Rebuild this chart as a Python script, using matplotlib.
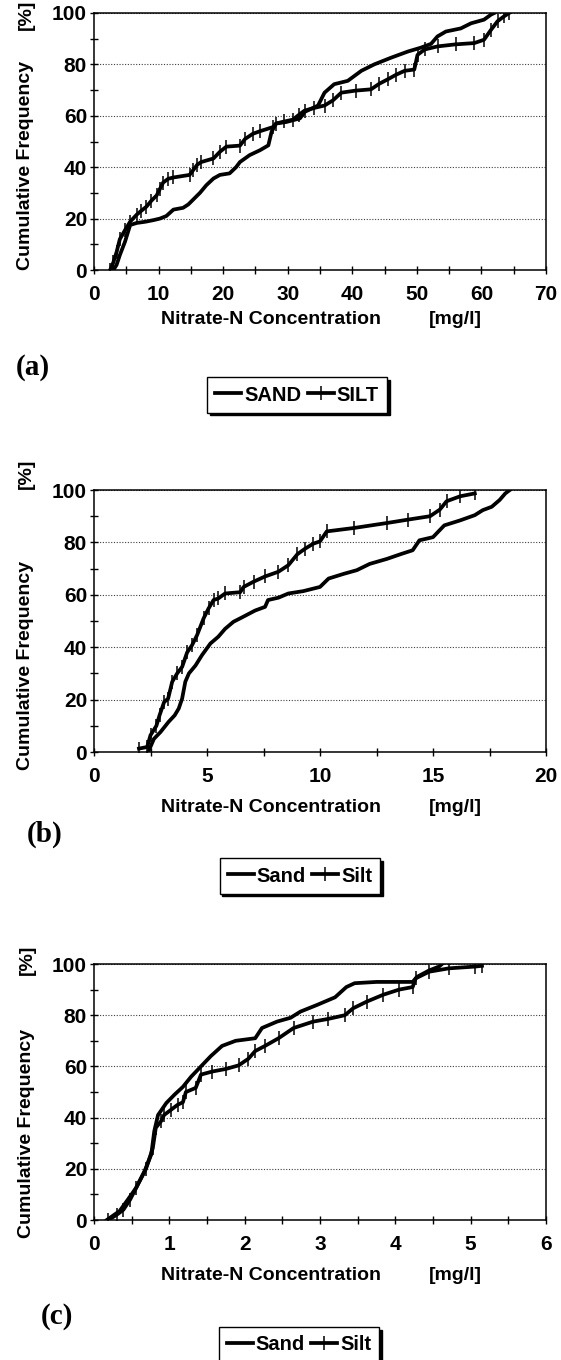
import matplotlib
matplotlib.use("Agg")
import matplotlib.pyplot as plt
from matplotlib.ticker import MultipleLocator

# ---------------- data ----------------
# Panel (a)
sand_a_x = [3.0, 3.5, 4.0, 4.8, 5.6, 6.6, 8.0, 9.2, 10.2, 11.2, 12.3, 13.8, 14.6, 15.4, 16.4, 17.4,
            18.5, 19.5, 21.0, 22.0, 22.6, 24.1, 25.7, 27.0, 27.5, 28.2, 29.8, 31.9, 32.6, 34.7, 35.7,
            37.2, 39.3, 41.4, 43.4, 46.0, 48.6, 50.6, 52.2, 53.2, 54.5, 56.8, 58.4, 60.4, 61.5, 62.0]
sand_a_y = [0, 2, 5.8, 11, 17.5, 18.3, 18.8, 19.4, 20, 21, 23.5, 24.2, 25.5, 27.5, 30, 33,
            35.6, 37, 37.6, 40, 42, 44.7, 46.6, 48.5, 53.8, 57, 57.6, 59, 61.5, 64, 69,
            72.3, 73.6, 77.5, 80, 82.6, 85, 86.5, 88, 90.9, 92.8, 94, 96, 97.4, 99.4, 100]
silt_a_x = [2.5, 3.0, 3.5, 4.0, 4.8, 5.6, 6.6, 7.3, 8.1, 8.9, 9.7, 10.2, 10.7, 11.5, 12.3, 14.8,
            15.4, 16.0, 16.6, 18.5, 19.5, 20.5, 22.6, 23.4, 24.6, 25.7, 27.7, 28.2, 29.5, 30.8,
            31.8, 32.6, 34.0, 35.7, 37.0, 38.3, 40.5, 42.9, 44.2, 45.5, 46.8, 48.1, 49.6, 50.1,
            51.2, 53.2, 56.0, 58.9, 60.4, 61.5, 62.5, 63.5, 64.3]
silt_a_y = [0, 3, 7, 12, 15.5, 18.8, 21.5, 23, 24.6, 27, 29, 31.5, 34, 35.5, 36, 37,
            39, 41, 42, 43.4, 46, 48, 48.4, 51, 53, 54, 55.6, 57, 57.8, 58.5,
            60.5, 62, 63, 64, 66, 69, 69.8, 70.3, 72.5, 74.2, 76, 77.5, 78, 83.7,
            85.8, 87, 87.8, 88.3, 89.6, 93.5, 96.8, 98.7, 100]

# Panel (b)
sand_b_x = [2.4, 2.65, 2.94, 3.3, 3.57, 3.75, 3.9, 4.04, 4.2, 4.49, 4.78, 5.15, 5.5, 5.8, 6.17,
            6.6, 7.13, 7.57, 7.7, 8.16, 8.6, 9.26, 10.0, 10.38, 11.05, 11.63, 12.2, 12.96, 13.6,
            14.1, 14.4, 15.0, 15.5, 16.2, 16.85, 17.2, 17.6, 17.95, 18.2, 18.4]
sand_b_y = [0, 5, 7.6, 11.5, 14, 16.6, 20.4, 26.8, 30, 33, 37, 41.4, 44, 47, 49.7,
            51.6, 54, 55.4, 58, 58.9, 60.5, 61.4, 63, 66.2, 68, 69.4, 71.8, 73.7, 75.6,
            77, 80.8, 82, 86.5, 88.4, 90.4, 92.3, 93.6, 96.2, 98.7, 100]
silt_b_x = [1.99, 2.35, 2.5, 2.76, 2.9, 3.1, 3.28, 3.46, 3.68, 3.9, 4.12, 4.34, 4.56, 4.85,
            5.07, 5.29, 5.5, 5.8, 6.47, 6.62, 7.06, 7.57, 8.16, 8.6, 9.0, 9.34, 9.7, 10.0,
            10.3, 11.5, 12.96, 13.9, 14.87, 15.3, 15.6, 16.2, 16.85]
silt_b_y = [1.3, 1.9, 6.4, 10, 14, 19, 20.4, 26.8, 30, 32.5, 38, 40.8, 44.6, 51,
            54.8, 58, 58.6, 60.5, 61, 63, 65, 67, 68.8, 71.3, 75.5, 77.6, 79.5, 80.4,
            84.2, 85.5, 87.4, 88.7, 90, 92.5, 95.7, 97.6, 98.7]

# Panel (c)
sand_c_x = [0.17, 0.34, 0.45, 0.56, 0.67, 0.76, 0.8, 0.85, 0.96, 1.07, 1.18, 1.29, 1.42, 1.55,
            1.7, 1.88, 2.14, 2.23, 2.43, 2.61, 2.74, 2.96, 3.2, 3.35, 3.46, 3.75, 4.01, 4.23,
            4.29, 4.45, 4.58, 4.62]
sand_c_y = [0, 3.5, 8, 12.6, 19, 25.6, 34.7, 41, 45.7, 49, 52, 56, 60, 64,
            68, 70, 71, 75, 77.5, 79, 81.4, 84, 87, 91, 92.5, 93, 93, 93,
            95, 97.5, 99, 100]
silt_c_x = [0.19, 0.3, 0.39, 0.48, 0.56, 0.69, 0.78, 0.82, 0.89, 0.93, 1.02, 1.11, 1.18, 1.22,
            1.35, 1.42, 1.57, 1.75, 1.92, 2.05, 2.14, 2.27, 2.45, 2.65, 2.91, 3.1, 3.33, 3.44,
            3.62, 3.84, 4.05, 4.23, 4.27, 4.45, 4.71, 5.06, 5.15]
silt_c_y = [0, 2, 4, 8, 12.6, 20, 28, 36, 38.6, 41, 43, 45, 46, 50,
            51.6, 56.8, 58, 59, 60.4, 63, 66, 68, 71, 75, 77.5, 78.5, 80, 82.7,
            85.3, 88, 90, 91, 94.4, 97, 98.3, 99, 99.3]

x_limits = [70, 20, 6]
x_major = [10, 5, 1]
x_minor = [5, 2.5, 0.5]
legend_labels = [["SAND", "SILT"], ["Sand", "Silt"], ["Sand", "Silt"]]
panel_tags = ["(a)", "(b)", "(c)"]
x_label = "Nitrate-N Concentration"
x_unit = "[mg/l]"
y_label = "Cumulative Frequency"
y_unit = "[%]"

# ---------------- layout (pixels) ----------------
W, H = 561, 1360
plt.rcParams['font.family'] = ['Liberation Sans', 'DejaVu Sans']
plt.rcParams['font.weight'] = 'bold'

fig = plt.figure(figsize=(W / 100, H / 100), dpi=100)

def fx(x):
    return x / W

def fy(y):
    return 1 - y / H

axes_px = [(94, 13, 546, 270), (94, 490, 546, 752), (94, 964, 546, 1220)]
xlab_y = [320, 808, 1275]
tag_pos = [(33, 368), (45, 834), (57, 1316)]
leg_pos = [(297, 395), (300, 876), (299, 1345)]
ylab_pos = [(26, 165), (26, 665), (27, 1133)]
yunit_pos = [(26, 15), (26, 474), (27, 960)]

series = [(sand_a_x, sand_a_y, silt_a_x, silt_a_y),
          (sand_b_x, sand_b_y, silt_b_x, silt_b_y),
          (sand_c_x, sand_c_y, silt_c_x, silt_c_y)]

for i in range(3):
    l, t, r, b = axes_px[i]
    ax = fig.add_axes([fx(l), fy(b), (r - l) / W, (b - t) / H])
    sx, sy, tx, ty = series[i]
    sand_line, = ax.plot(sx, sy, color='black', lw=2.7, solid_joinstyle='round')
    silt_line, = ax.plot(tx, ty, color='black', lw=2.7, marker='|', ms=10, mew=1.1,
                         solid_joinstyle='round')
    ax.set_xlim(0, x_limits[i])
    ax.set_ylim(0, 100)
    ax.xaxis.set_major_locator(MultipleLocator(x_major[i]))
    ax.xaxis.set_minor_locator(MultipleLocator(x_minor[i]))
    ax.yaxis.set_major_locator(MultipleLocator(20))
    ax.yaxis.set_minor_locator(MultipleLocator(10))
    ax.tick_params(which='both', direction='inout', length=6, width=1.0, color='black')
    ax.tick_params(axis='x', which='major', labelsize=15, pad=8)
    ax.tick_params(axis='y', which='major', labelsize=15, pad=2)
    for lab in ax.get_xticklabels() + ax.get_yticklabels():
        lab.set_fontweight('bold')
    ax.grid(axis='y', which='major', linestyle=(0, (1, 1.5)), color='0.25', lw=0.8)
    ax.set_axisbelow(True)
    for sp in ax.spines.values():
        sp.set_linewidth(1.1)
        sp.set_color('black')

    fig.text(fx(271), fy(xlab_y[i]), x_label, ha='center', va='center', fontsize=14,
             fontweight='bold')
    fig.text(fx(455), fy(xlab_y[i]), x_unit, ha='center', va='center', fontsize=14,
             fontweight='bold')
    fig.text(fx(ylab_pos[i][0]), fy(ylab_pos[i][1]), y_label, rotation=90, ha='center',
             va='center', fontsize=14, fontweight='bold')
    fig.text(fx(yunit_pos[i][0]), fy(yunit_pos[i][1]), y_unit, rotation=90, ha='center',
             va='center', fontsize=14, fontweight='bold')
    fig.text(fx(tag_pos[i][0]), fy(tag_pos[i][1]), panel_tags[i], ha='center', va='center',
             fontsize=21, fontweight='bold', family=['Liberation Serif', 'DejaVu Serif'])

    leg = fig.legend([sand_line, silt_line], legend_labels[i], loc='center',
                     bbox_to_anchor=(fx(leg_pos[i][0]), fy(leg_pos[i][1])), ncol=2,
                     frameon=True, fancybox=False, shadow={'color': 'black', 'alpha': 1},
                     edgecolor='black', framealpha=1, borderpad=0.4, handlelength=1.3,
                     handletextpad=0.15, columnspacing=0.3, borderaxespad=0,
                     prop={'weight': 'bold', 'size': 14.5})
    leg.get_frame().set_linewidth(1.0)

fig.savefig("out.png", dpi=100)
